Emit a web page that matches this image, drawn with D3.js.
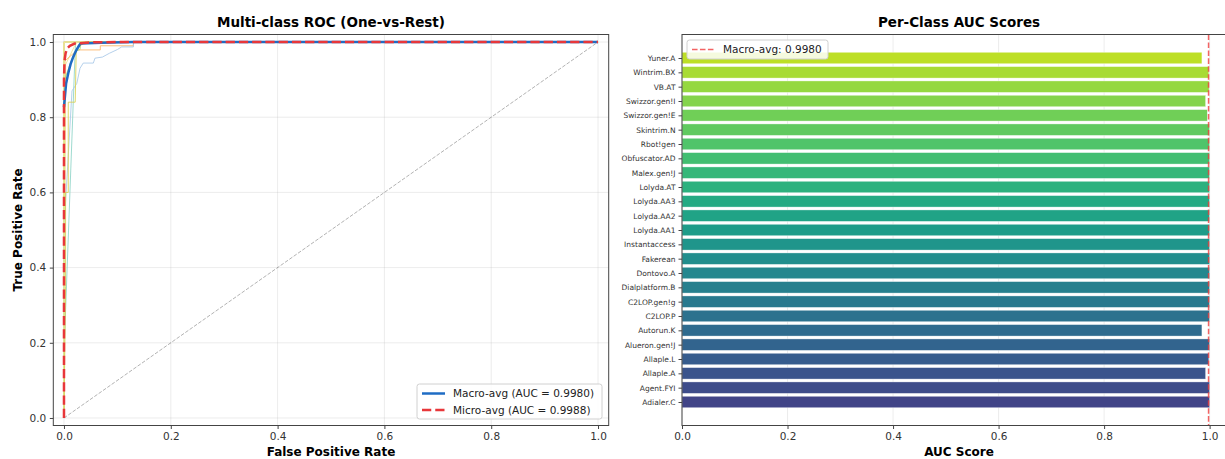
<!DOCTYPE html>
<html>
<head>
<meta charset="utf-8">
<script src="https://cdn.jsdelivr.net/npm/d3@7"></script>
<style>
  body { margin: 0; background: #fff; }
  svg { font-family: "DejaVu Sans", sans-serif; display: block; }
  .tick text { fill: #333; }
</style>
</head>
<body>
<svg id="chart" width="1225" height="459"></svg>
<script>
// ---- data ----
const classes = ['Adialer.C', 'Agent.FYI', 'Allaple.A', 'Allaple.L', 'Alueron.gen!J', 'Autorun.K',
  'C2LOP.P', 'C2LOP.gen!g', 'Dialplatform.B', 'Dontovo.A', 'Fakerean', 'Instantaccess',
  'Lolyda.AA1', 'Lolyda.AA2', 'Lolyda.AA3', 'Lolyda.AT', 'Malex.gen!J', 'Obfuscator.AD',
  'Rbot!gen', 'Skintrim.N', 'Swizzor.gen!E', 'Swizzor.gen!I', 'VB.AT', 'Wintrim.BX', 'Yuner.A'];
const aucValues = [0.9999, 0.9999, 0.9924, 0.9985, 0.9999, 0.9854,
  0.9998, 0.9998, 0.9999, 0.9999, 1.0, 0.9999,
  0.9999, 0.9998, 0.9998, 0.9999, 0.9997, 0.9999,
  0.9998, 0.9998, 0.9956, 0.9924, 0.9990, 0.9985, 0.9854];
const macroAuc = 0.9980;
const microAuc = 0.9988;

// per-class ROC curves (fpr, tpr); others are perfect
const perfectRoc = [[0, 0], [0, 1], [1, 1]];
const rocYuner = [[0, 0], [0.003, 0.35], [0.003, 0.6], [0.008, 0.6], [0.008, 0.84],
  [0.021, 0.84], [0.023, 0.98], [0.03, 0.99], [0.04, 1], [1, 1]];
const rocAutorun = [[0, 0], [0.002, 0.95], [0.025, 0.979], [0.068, 0.979], [0.068, 0.99],
  [0.13, 0.99], [0.13, 1], [1, 1]];
const rocSwizzorI = [[0, 0], [0, 0.5], [0.015, 0.87], [0.024, 0.89], [0.03, 0.93], [0.036, 0.944],
  [0.055, 0.944], [0.058, 0.957], [0.072, 0.96], [0.085, 0.97], [0.1, 0.98], [0.108, 0.987],
  [0.13, 0.987], [0.13, 1], [1, 1]];
const rocAllapleA = [[0, 0], [0, 0.17], [0.021, 0.98], [0.022, 1], [1, 1]];
const rocSwizzorE = [[0, 0], [0.001, 0.9], [0.02, 0.975], [0.03, 0.98], [0.032, 1], [1, 1]];
const rocAllapleL = [[0, 0], [0.002, 0.7], [0.003, 0.94], [0.02, 0.99], [0.025, 1], [1, 1]];
const macroRoc = [[0, 0.827], [0.004, 0.89], [0.008, 0.917], [0.0125, 0.942],
  [0.0175, 0.961], [0.023, 0.978], [0.028, 0.99], [0.031, 0.996], [0.07, 0.998], [0.13, 1], [1, 1]];
const microRoc = [[0, 0], [0, 0.9], [0.001, 0.95], [0.003, 0.97], [0.006, 0.983],
  [0.011, 0.99], [0.02, 0.996], [0.05, 0.999], [0.1, 1], [1, 1]];
const rocTicks = [0, 0.2, 0.4, 0.6, 0.8, 1.0];
const aucTicks = [0, 0.2, 0.4, 0.6, 0.8, 1.0];

const classRocs = classes.map(c => ({
  'Yuner.A': rocYuner, 'Autorun.K': rocAutorun, 'Swizzor.gen!I': rocSwizzorI,
  'Allaple.A': rocAllapleA, 'Swizzor.gen!E': rocSwizzorE, 'Allaple.L': rocAllapleL
}[c] || perfectRoc));

// curve colours (Set3-like pastel palette)
const curveColors = {
  'Yuner.A': '#d8d050', 'Autorun.K': '#fdb462', 'Swizzor.gen!I': '#a8c8e8',
  'Allaple.A': '#8dd3c7', 'Swizzor.gen!E': '#b3de69', 'Allaple.L': '#f0e68c'
};

const svg = d3.select('#chart');
const fmt = d3.format('.1f');

// ---- left: ROC ----
const L = { left: 53.3, right: 608.7, top: 34.5, bottom: 425.5 };
const x1 = d3.scaleLinear().domain([-0.02, 1.02]).range([L.left, L.right]);
const y1 = d3.scaleLinear().domain([-0.02, 1.02]).range([L.bottom, L.top]);

const gL = svg.append('g');

// grid
gL.append('g').selectAll('line.gx').data(rocTicks).join('line')
  .attr('x1', d => x1(d)).attr('x2', d => x1(d)).attr('y1', L.top).attr('y2', L.bottom)
  .attr('stroke', '#b0b0b0').attr('stroke-opacity', 0.3).attr('stroke-width', 0.8);
gL.append('g').selectAll('line.gy').data(rocTicks).join('line')
  .attr('y1', d => y1(d)).attr('y2', d => y1(d)).attr('x1', L.left).attr('x2', L.right)
  .attr('stroke', '#b0b0b0').attr('stroke-opacity', 0.3).attr('stroke-width', 0.8);

svg.append('clipPath').attr('id', 'clipL').append('rect')
  .attr('x', L.left).attr('y', L.top).attr('width', L.right - L.left).attr('height', L.bottom - L.top);

const line1 = d3.line().x(d => x1(d[0])).y(d => y1(d[1]));
const curves = gL.append('g').attr('clip-path', 'url(#clipL)');

// diagonal
curves.append('path').attr('d', line1([[0, 0], [1, 1]]))
  .attr('fill', 'none').attr('stroke', '#000').attr('stroke-opacity', 0.3)
  .attr('stroke-width', 1).attr('stroke-dasharray', '3.7,1.6');

const perfectColors = d3.schemeSet3;
classes.forEach((c, i) => {
  curves.append('path').attr('d', line1(classRocs[i]))
    .attr('fill', 'none')
    .attr('stroke', curveColors[c] || perfectColors[i % 12])
    .attr('stroke-opacity', 0.85).attr('stroke-width', 1);
});

curves.append('path').attr('d', line1(macroRoc))
  .attr('fill', 'none').attr('stroke', '#1f6cc4').attr('stroke-width', 2.5);
curves.append('path').attr('d', line1(microRoc))
  .attr('fill', 'none').attr('stroke', '#e8373a').attr('stroke-width', 2.5)
  .attr('stroke-dasharray', '9.25,4');

// axes
const axBL = gL.append('g').attr('transform', `translate(0,${L.bottom})`)
  .call(d3.axisBottom(x1).tickValues(rocTicks).tickFormat(fmt).tickSize(3.5).tickPadding(3.5));
const axLL = gL.append('g').attr('transform', `translate(${L.left},0)`)
  .call(d3.axisLeft(y1).tickValues(rocTicks).tickFormat(fmt).tickSize(3.5).tickPadding(3.5));
[axBL, axLL].forEach(a => {
  a.select('.domain').remove();
  a.selectAll('text').attr('font-size', 10.5).attr('font-family', 'DejaVu Sans');
  a.selectAll('line').attr('stroke', '#444');
});
gL.append('rect').attr('x', L.left).attr('y', L.top)
  .attr('width', L.right - L.left).attr('height', L.bottom - L.top)
  .attr('fill', 'none').attr('stroke', '#444').attr('stroke-width', 1);

gL.append('text').attr('x', (L.left + L.right) / 2).attr('y', 27)
  .attr('text-anchor', 'middle').attr('font-weight', 'bold').attr('font-size', 13.5)
  .text('Multi-class ROC (One-vs-Rest)');
gL.append('text').attr('x', (L.left + L.right) / 2).attr('y', 456)
  .attr('text-anchor', 'middle').attr('font-weight', 'bold').attr('font-size', 12)
  .text('False Positive Rate');
gL.append('text').attr('transform', `translate(22,${(L.top + L.bottom) / 2}) rotate(-90)`)
  .attr('text-anchor', 'middle').attr('font-weight', 'bold').attr('font-size', 12)
  .text('True Positive Rate');

// legend
const lg = gL.append('g').attr('transform', 'translate(417,384)');
lg.append('rect').attr('width', 185).attr('height', 35).attr('rx', 2.5)
  .attr('fill', '#fff').attr('fill-opacity', 0.85).attr('stroke', '#d0d0d0');
const legItems = [
  { label: `Macro-avg (AUC = ${macroAuc.toFixed(4)})`, color: '#1f6cc4', dash: null },
  { label: `Micro-avg (AUC = ${microAuc.toFixed(4)})`, color: '#e8373a', dash: '9.25,4' }
];
legItems.forEach((it, i) => {
  const yy = 9.5 + i * 16.5;
  lg.append('line').attr('x1', 5).attr('x2', 28).attr('y1', yy).attr('y2', yy)
    .attr('stroke', it.color).attr('stroke-width', 2.5).attr('stroke-dasharray', it.dash);
  lg.append('text').attr('x', 36).attr('y', yy + 3.8).attr('font-size', 10.5).attr('fill', '#222')
    .text(it.label);
});

// ---- right: AUC bars ----
const R = { left: 682, right: 1236, top: 34.5, bottom: 425.5 };
const x2 = d3.scaleLinear().domain([0, 1.05]).range([R.left, R.right]);
const y2 = d3.scaleLinear().domain([-1.64, classes.length - 1 + 1.64]).range([R.bottom, R.top]);
const bandH = Math.abs(y2(0.4) - y2(-0.4));
const gR = svg.append('g');

gR.append('g').selectAll('line').data(aucTicks).join('line')
  .attr('x1', d => x2(d)).attr('x2', d => x2(d)).attr('y1', R.top).attr('y2', R.bottom)
  .attr('stroke', '#b0b0b0').attr('stroke-opacity', 0.3).attr('stroke-width', 0.8);

const barColor = i => d3.interpolateViridis(0.2 + 0.7 * i / (classes.length - 1));
gR.append('g').selectAll('rect').data(aucValues).join('rect')
  .attr('x', x2(0))
  .attr('y', (d, i) => y2(i + 0.4))
  .attr('width', d => x2(d) - x2(0))
  .attr('height', bandH)
  .attr('fill', (d, i) => barColor(i))
  .attr('stroke', '#fff').attr('stroke-width', 0.6).attr('stroke-opacity', 0.6);

// macro line
gR.append('line').attr('x1', x2(macroAuc)).attr('x2', x2(macroAuc))
  .attr('y1', R.top).attr('y2', R.bottom)
  .attr('stroke', '#f03c3c').attr('stroke-opacity', 0.8).attr('stroke-width', 1.5)
  .attr('stroke-dasharray', '5.55,2.4');

const axBR = gR.append('g').attr('transform', `translate(0,${R.bottom})`)
  .call(d3.axisBottom(x2).tickValues(aucTicks).tickFormat(fmt).tickSize(3.5).tickPadding(3.5));
const axLR = gR.append('g').attr('transform', `translate(${R.left},0)`)
  .call(d3.axisLeft(y2).tickValues(d3.range(classes.length)).tickFormat(i => classes[i])
    .tickSize(3.5).tickPadding(3));
axBR.selectAll('text').attr('font-size', 10.5);
axLR.selectAll('text').attr('font-size', 7.5);
[axBR, axLR].forEach(a => {
  a.select('.domain').remove();
  a.selectAll('text').attr('font-family', 'DejaVu Sans');
  a.selectAll('line').attr('stroke', '#444');
});
gR.append('rect').attr('x', R.left).attr('y', R.top)
  .attr('width', R.right - R.left).attr('height', R.bottom - R.top)
  .attr('fill', 'none').attr('stroke', '#444').attr('stroke-width', 1);

gR.append('text').attr('x', (R.left + R.right) / 2).attr('y', 27)
  .attr('text-anchor', 'middle').attr('font-weight', 'bold').attr('font-size', 13.5)
  .text('Per-Class AUC Scores');
gR.append('text').attr('x', (R.left + R.right) / 2).attr('y', 456)
  .attr('text-anchor', 'middle').attr('font-weight', 'bold').attr('font-size', 12)
  .text('AUC Score');

const lr = gR.append('g').attr('transform', 'translate(687,40)');
lr.append('rect').attr('width', 141).attr('height', 19).attr('rx', 2.5)
  .attr('fill', '#fff').attr('fill-opacity', 0.85).attr('stroke', '#d0d0d0');
lr.append('line').attr('x1', 5).attr('x2', 28).attr('y1', 9.5).attr('y2', 9.5)
  .attr('stroke', '#f03c3c').attr('stroke-opacity', 0.8).attr('stroke-width', 1.5)
  .attr('stroke-dasharray', '5.55,2.4');
lr.append('text').attr('x', 36).attr('y', 13.3).attr('font-size', 10.5).attr('fill', '#222')
  .text(`Macro-avg: ${macroAuc.toFixed(4)}`);
</script>
</body>
</html>
